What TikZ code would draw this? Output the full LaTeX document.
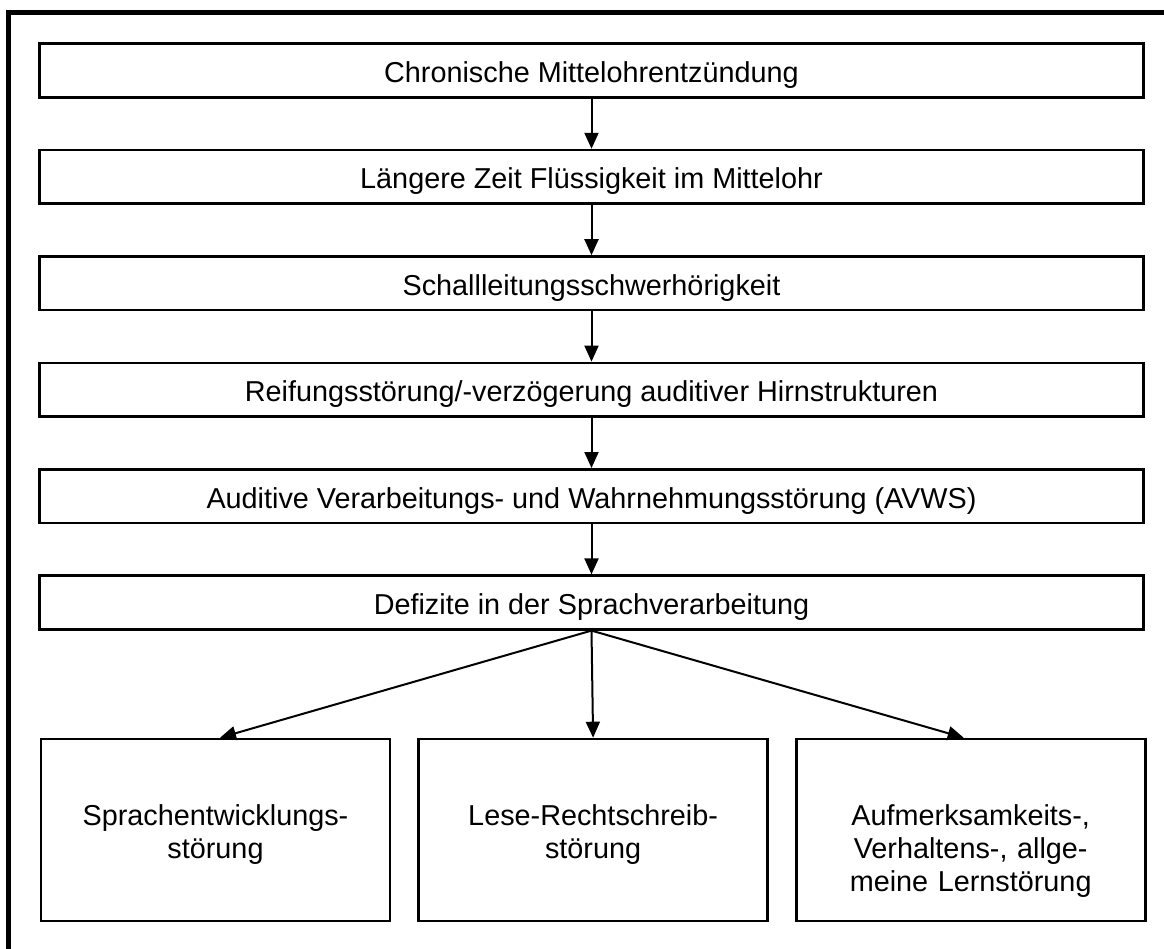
\documentclass[tikz,border=0pt]{standalone}
\usepackage{fontspec}
\setmainfont{Liberation Sans}
\usetikzlibrary{arrows.meta,positioning}

\begin{document}
\begin{tikzpicture}[x=0.5pt,y=-0.5pt,node distance=25.1pt,
  kasten/.style={draw,line width=1.3pt,minimum width=552pt,minimum height=26.8pt,
    inner sep=0pt,text height=13pt,text depth=1pt,
    font=\fontsize{14.4pt}{16.5pt}\selectfont},
  folge/.style={draw,line width=1.3pt,minimum width=174.5pt,inner sep=0pt,
    text width=165pt,align=center,text height=43pt,text depth=48pt,
    font=\fontsize{14.4pt}{16.5pt}\selectfont},
  pfeil/.style={-{Triangle[length=8pt,width=7pt]},line width=1pt}]
\useasboundingbox (0,0) rectangle (1164,949);
\clip (0,0) rectangle (1164,949);
\draw[line width=2.4pt] (8.5,990) |- (1200,12.5);
\node[kasten] (entz) at (591.5,70.5) {Chronische Mittelohrentzündung};
\node[kasten,below=of entz] (fluess) {Längere Zeit Flüssigkeit im Mittelohr};
\node[kasten,below=of fluess] (schall) {Schallleitungsschwerhörigkeit};
\node[kasten,below=of schall] (reif) {Reifungsstörung/-verzögerung auditiver Hirnstrukturen};
\node[kasten,below=of reif] (avws) {Auditive Verarbeitungs- und Wahrnehmungsstörung (AVWS)};
\node[kasten,below=of avws] (defizit) {Defizite in der Sprachverarbeitung};
\node[folge] (sprach) at (215.5,830) {Sprachentwicklungs-\\störung};
\node[folge,right=13pt of sprach] (lese) {Lese-Rechtschreib-\\störung};
\node[folge,right=13pt of lese] (lern) {Aufmerksamkeits-,\\Verhaltens-, allge-\\meine Lernstörung};
\draw[pfeil] (entz) -- (fluess);
\draw[pfeil] (fluess) -- (schall);
\draw[pfeil] (schall) -- (reif);
\draw[pfeil] (reif) -- (avws);
\draw[pfeil] (avws) -- (defizit);
\draw[pfeil] (defizit.south) -- ([xshift=2.25pt]sprach.north);
\draw[pfeil] (defizit.south) -- (lese.north);
\draw[pfeil] (defizit.south) -- ([xshift=-3.5pt]lern.north);
\end{tikzpicture}
\end{document}
